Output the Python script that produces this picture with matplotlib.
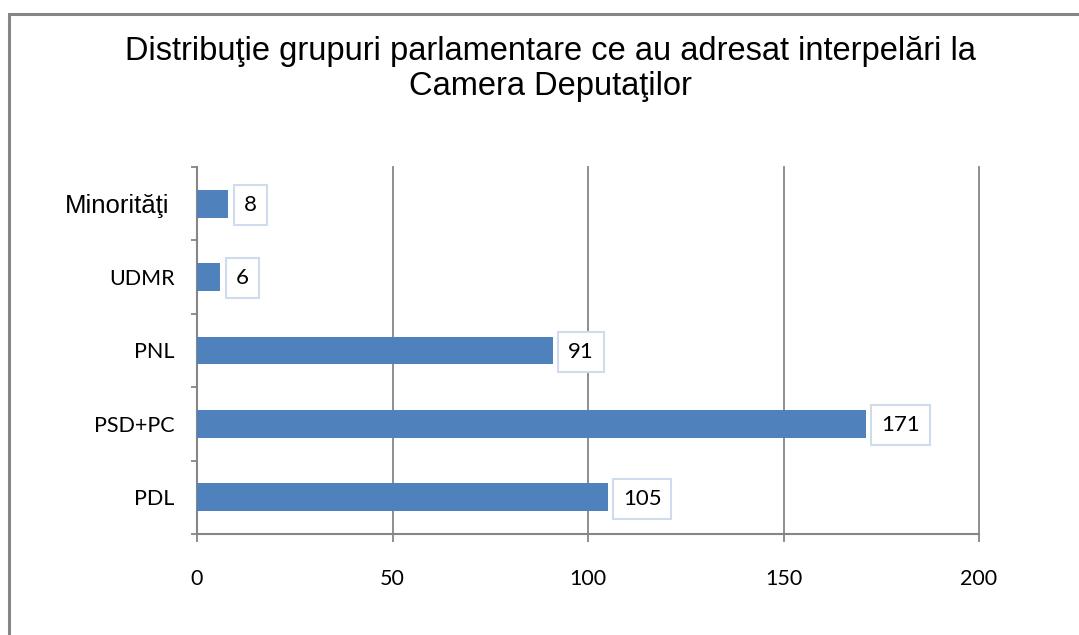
import numpy as np
import matplotlib.pyplot as plt
import matplotlib.transforms as mtransforms
from matplotlib.patches import Rectangle

# Data (top to bottom as in the chart)
categories = ["Minorităţi", "UDMR", "PNL", "PSD+PC", "PDL"]
values = [8, 6, 91, 171, 105]
x_ticks = [0, 50, 100, 150, 200]
title = "Distribuţie grupuri parlamentare ce au adresat interpelări la\nCamera Deputaţilor"

bar_color = "#4F81BD"
grid_color = "#868686"
label_font = "Lato"

fig = plt.figure(figsize=(10.79, 6.35), dpi=100)
fig.patch.set_facecolor("white")

# Outer chart frame (only top/left visible inside image)
fig.patches.append(Rectangle((9 / 1079, -0.1), 1.2, 1 - 14 / 635 + 0.1,
                             transform=fig.transFigure, fill=False,
                             edgecolor=grid_color, linewidth=2.2))

fig.text(550 / 1079, 1 - 69 / 635, title, ha="center", va="center",
         fontsize=23.5, family="Liberation Sans", fontweight="normal",
         linespacing=1.18, color="black")

ax = fig.add_axes([197 / 1079, 1 - 534 / 635, (979 - 197) / 1079, (534 - 167) / 635])

y = np.arange(len(categories))
ax.barh(y, values, height=0.38, color=bar_color, zorder=3)
ax.set_ylim(len(categories) - 0.5, -0.5)
ax.set_xlim(0, 200)

# Vertical gridlines
ax.set_xticks(x_ticks)
ax.xaxis.grid(True, color=grid_color, linewidth=1.3, zorder=0)
for gl in ax.get_xgridlines():
    gl.set_clip_on(False)
ax.set_xticklabels([str(t) for t in x_ticks], fontsize=15.5, family=label_font)
ax.tick_params(axis="x", direction="out", length=6, width=1.3, color=grid_color, pad=19)

# Y ticks at category boundaries, labels at centres
ax.set_yticks(np.arange(-0.5, len(categories), 1.0))
ax.set_yticklabels([])
ax.tick_params(axis="y", which="major", direction="out", length=4, width=1.3, color=grid_color)
ax.set_yticks(y, minor=True)
ax.set_yticklabels(categories, minor=True, fontsize=15.5, family=label_font)
ax.tick_params(axis="y", which="minor", length=0, pad=16)
lbls = ax.get_yticklabels(minor=True)
lbls[0].set_fontfamily("Liberation Sans")
lbls[0].set_fontsize(18.5)
lbls[0].set_transform(lbls[0].get_transform() +
                      mtransforms.ScaledTranslation(-5 / 100, 0, fig.dpi_scale_trans))

for side in ["top", "right"]:
    ax.spines[side].set_visible(False)
for side in ["left", "bottom"]:
    ax.spines[side].set_color(grid_color)
    ax.spines[side].set_linewidth(1.5)

# Data labels in boxes
for yi, v in zip(y, values):
    ax.annotate(str(v), xy=(v, yi), xytext=(11, -1), textcoords="offset points",
                ha="left", va="center", fontsize=16, family=label_font,
                bbox=dict(boxstyle="square,pad=0.45", facecolor="white",
                          edgecolor="#D0DCEE", linewidth=1.5), zorder=4)

fig.savefig("out.png", dpi=100)
